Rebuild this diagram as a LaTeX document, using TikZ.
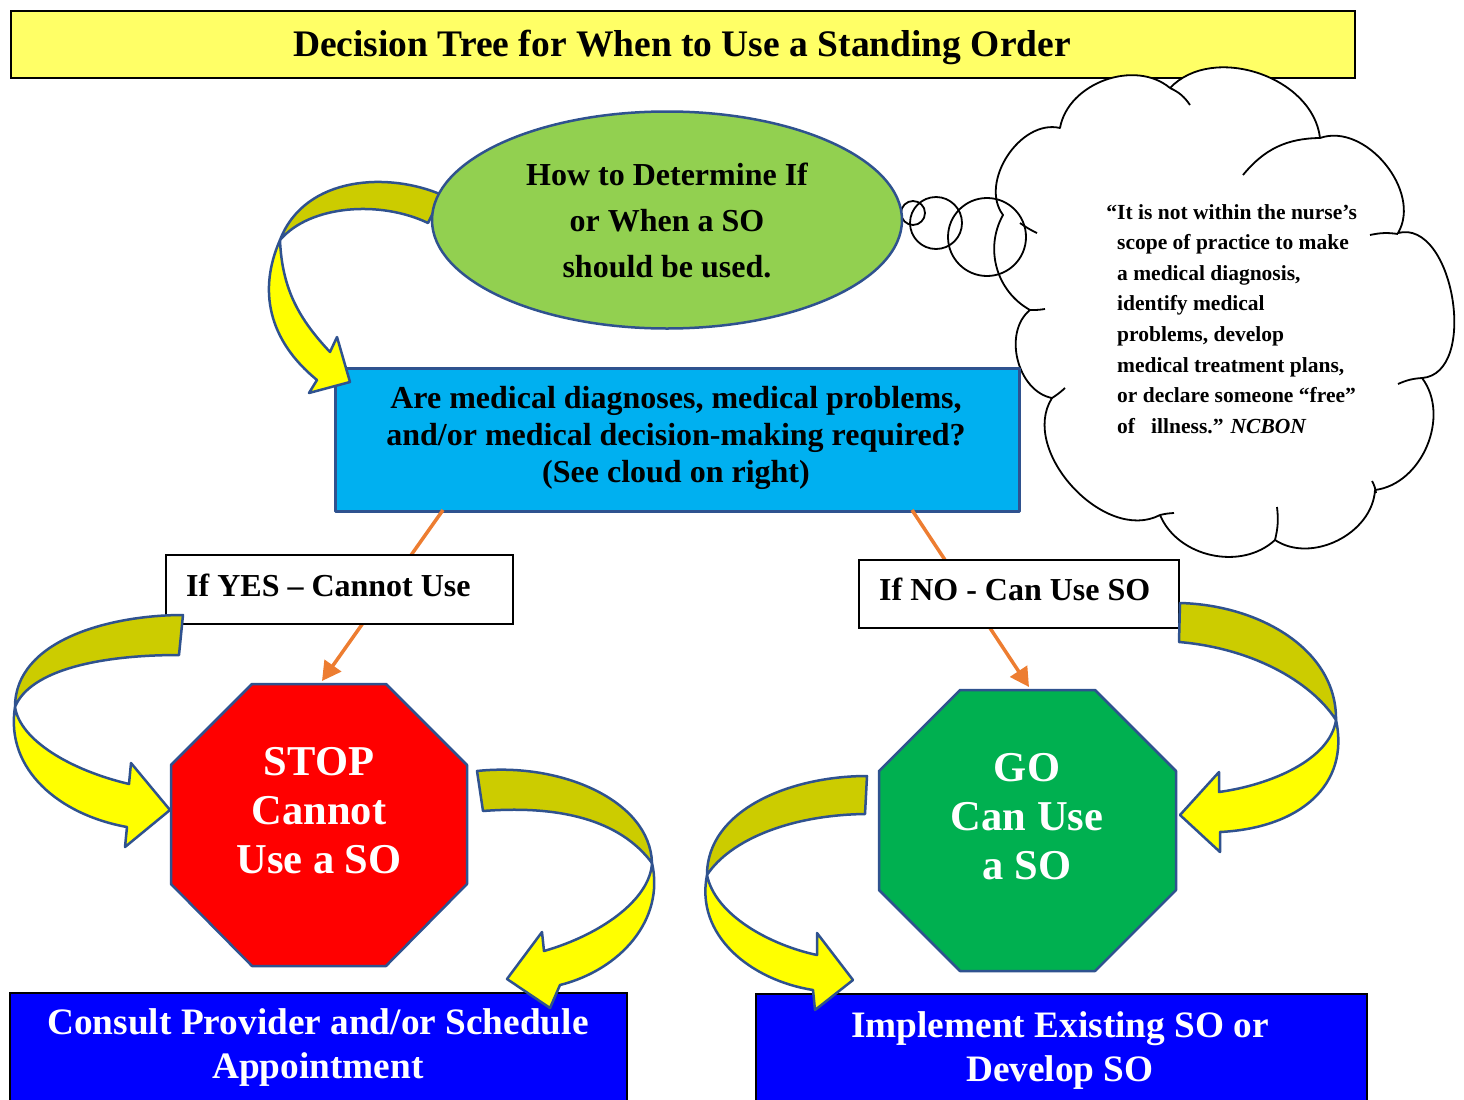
\documentclass[tikz,border=0pt]{standalone}
\usepackage{fontspec}
\setmainfont{Liberation Serif}
\usetikzlibrary{arrows.meta,shapes.geometric}
\definecolor{ttlyel}{HTML}{FFFF66}
\definecolor{elgreen}{HTML}{92D050}
\definecolor{qblue}{HTML}{00B0F0}
\definecolor{bordblue}{HTML}{2F528F}
\definecolor{stopred}{HTML}{FF0000}
\definecolor{gogreen}{HTML}{00B050}
\definecolor{boxblue}{HTML}{0000FF}
\definecolor{olivebk}{HTML}{CCCC00}
\definecolor{yelfront}{HTML}{FFFF00}
\definecolor{orng}{HTML}{ED7D31}
\begin{document}
\begin{tikzpicture}[x=1pt,y=-1pt,
  bord/.style={draw=bordblue, line width=2.5pt, line join=round},
  backband/.style={bord, fill=olivebk},
  frontband/.style={bord, fill=yelfront},
  cloudline/.style={draw=black, line width=1.8pt},
  orangearrow/.style={draw=orng, line width=3.5pt, -{Triangle[length=19pt,width=20pt]}},
  labelbox/.style={draw=black, line width=1.6pt, fill=white, anchor=north west, inner sep=0pt},
  bottombox/.style={draw=black, line width=2pt, fill=boxblue, anchor=north west, inner sep=0pt},
  midtext/.style={font=\fontsize{32}{37}\selectfont\bfseries, align=center, inner sep=0pt},
  octtext/.style={font=\fontsize{42.5}{49}\selectfont\bfseries, align=center, text=white, inner sep=0pt},
  bottext/.style={font=\fontsize{37.3}{44}\selectfont\bfseries, align=center, text=white, inner sep=0pt}]
\useasboundingbox (0,0) rectangle (1464,1100);
\clip (0,0) rectangle (1464,1100);

% title
\node[draw=black, line width=2pt, fill=ttlyel, minimum width=1344pt, minimum height=67pt,
      inner sep=0pt, anchor=north west] (title) at (10,10) {};
\node[font=\fontsize{37.5}{44}\selectfont\bfseries, inner sep=0pt] (titletext) at (682,47)
  {Decision Tree for When to Use a Standing Order};

% cloud
\def\cloudpath{(1003,215) to[bend left=70] (1060,128) to[bend left=60] (1170,88)
  to[bend left=65] (1320,138) to[bend left=70] (1398,233) to[bend left=95] (1422,378)
  to[bend left=60] (1375,490) to[bend left=60] (1275,540) to[bend left=55] (1160,515)
  to[bend left=75] (1052,398) to[bend left=65] (1030,310) to[bend left=45] (1003,215) -- cycle}
\fill[white] \cloudpath;
\draw[line width=1.8pt] (913,213) circle[radius=12];
\draw[line width=1.8pt] (936,223) circle[radius=26];
\draw[line width=1.8pt] (987,237) circle[radius=39];
\draw[cloudline, line join=round] \cloudpath;
\draw[cloudline] (1243,175) to[bend left=25] (1320,138);
\draw[cloudline] (1170,88) to[bend left=15] (1190,105);
\draw[cloudline] (1370,235) to[bend left=10] (1398,234);
\draw[cloudline] (1398,384) to[bend left=10] (1422,378);
\draw[cloudline] (1372,481) to[bend left=10] (1376,493);
\draw[cloudline] (1277,507) to[bend left=10] (1275,540);
\draw[cloudline] (1160,515) to[bend left=5] (1174,513);
\draw[cloudline] (1065,388) to[bend left=5] (1052,398);
\draw[cloudline] (1045,309) to[bend left=5] (1030,310);
\draw[cloudline] (1037,233) to[bend left=5] (1020,223);
\node[font=\fontsize{21.5}{30.6}\selectfont\bfseries, align=left, anchor=north west, inner sep=0pt]
  (quote) at (1117,204)
  {\llap{“}It is not within the nurse’s\\
   scope of practice to make\\
   a medical diagnosis,\\
   identify medical\\
   problems, develop\\
   medical treatment plans,\\
   or declare someone “free”\\
   of\ \ \ illness.” \textit{NCBON}};

% question box
\node[bord, fill=qblue, minimum width=684pt, minimum height=143pt, inner sep=0pt,
      anchor=north west] (q) at (334,367) {};
\node[midtext] (qtext) at (676,438)
  {Are medical diagnoses, medical problems,\\and/or medical decision-making required?\\(See cloud on right)};

% orange connectors
\coordinate (yesstart) at (443,510);
\coordinate (stoptop) at (322,681);
\coordinate (nostart) at (912,510);
\coordinate (gotop) at (1029,687);
\draw[orangearrow] (yesstart) -- (stoptop);
\draw[orangearrow] (nostart) -- (gotop);

% labels
\node[labelbox, minimum width=347pt, minimum height=69pt] (yes) at (165,554) {};
\node[midtext, anchor=west] (yestext) at (186,585) {If YES – Cannot Use};
\node[labelbox, minimum width=320pt, minimum height=68pt] (no) at (858,559) {};
\node[midtext, anchor=west] (notext) at (879,589) {If NO - Can Use SO};

% octagons
\draw[bord, fill=stopred] (252,684) -- (386,684) -- (467,765) -- (467,884) -- (386,966)
  -- (252,966) -- (171,884) -- (171,765) -- cycle;
\node[octtext] (stop) at (319,811) {STOP\\Cannot\\Use a SO};
\draw[bord, fill=gogreen] (960,690) -- (1095,690) -- (1176,771) -- (1176,890) -- (1095,971)
  -- (960,971) -- (879,890) -- (879,771) -- cycle;
\node[octtext] (go) at (1027,817) {GO\\Can Use\\a SO};

% bottom boxes
\node[bottombox, minimum width=617pt, minimum height=130pt] (consult) at (9,992) {};
\node[bottext] (consulttext) at (318,1048) {Consult Provider and/or Schedule\\Appointment};
\node[bottombox, minimum width=611pt, minimum height=130pt] (impl) at (755,993) {};
\node[bottext] (impltext) at (1060,1050.5) {Implement Existing SO or\\Develop SO};

% curved arrow 1 (ellipse -> question box)
\draw[backband] (442,195) .. controls (390,172) and (305,175) .. (280,240)
  .. controls (310,205) and (380,200) .. (428,223) -- cycle;
\draw[frontband] (280,240) .. controls (258,290) and (268,340) .. (317,380) -- (309,393)
  -- (350,382) -- (337,337) -- (330,352) .. controls (300,320) and (282,290) .. (280,240) -- cycle;

% curved arrow 2 (label -> STOP)
\draw[backband] (183,615) .. controls (110,615) and (15,640) .. (15,707)
  .. controls (30,670) and (100,655) .. (179,655) -- cycle;
\draw[frontband] (15,707) .. controls (5,770) and (60,815) .. (127,827) -- (125,847)
  -- (170,810) -- (131,763) -- (129,784) .. controls (70,770) and (20,740) .. (15,707) -- cycle;

% curved arrow 3 (STOP -> consult)
\draw[backband] (477,771) .. controls (560,762) and (650,800) .. (652,863)
  .. controls (620,820) and (560,805) .. (483,811) -- cycle;
\draw[frontband] (652,863) .. controls (665,920) and (620,970) .. (560,985) -- (550,1008)
  -- (507,979) -- (542,932) -- (544,951) .. controls (600,935) and (650,900) .. (652,863) -- cycle;

% curved arrow 4 (GO -> implement)
\draw[backband] (867,776) .. controls (790,776) and (707,810) .. (707,875)
  .. controls (730,840) and (790,815) .. (865,814) -- cycle;
\draw[frontband] (707,875) .. controls (695,935) and (750,980) .. (813,990) -- (815,1010)
  -- (853,980) -- (817,933) -- (817,955) .. controls (770,945) and (715,915) .. (707,875) -- cycle;

% curved arrow 5 (label -> GO)
\draw[backband] (1180,603) .. controls (1260,605) and (1337,650) .. (1336,720)
  .. controls (1310,680) and (1250,648) .. (1179,642) -- cycle;
\draw[frontband] (1336,720) .. controls (1350,785) and (1300,828) .. (1220,832) -- (1220,852)
  -- (1180,815) -- (1219,772) -- (1219,792) .. controls (1270,785) and (1330,760) .. (1336,720) -- cycle;

% ellipse
\node[ellipse, bord, fill=elgreen, minimum width=470pt, minimum height=217pt, inner sep=0pt]
  (how) at (667,220) {};
\node[font=\fontsize{32}{46}\selectfont\bfseries, align=center, inner sep=0pt] (howtext) at (667,220)
  {How to Determine If\\or When a SO\\should be used.};
\end{tikzpicture}
\end{document}
